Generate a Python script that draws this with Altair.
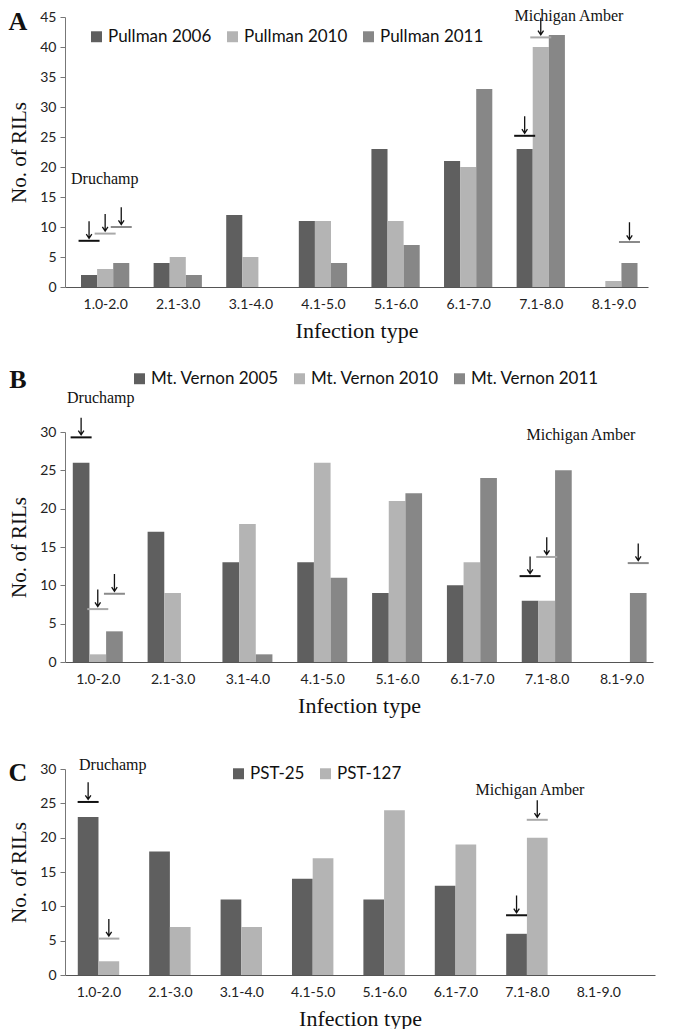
import json
import altair as alt
import pandas as pd

categories = ["1.0-2.0", "2.1-3.0", "3.1-4.0", "4.1-5.0", "5.1-6.0", "6.1-7.0", "7.1-8.0", "8.1-9.0"]

# Panel A
a_series = ["Pullman 2006", "Pullman 2010", "Pullman 2011"]
a_2006 = [2, 4, 12, 11, 23, 21, 23, 0]
a_2010 = [3, 5, 5, 11, 11, 20, 40, 1]
a_2011 = [4, 2, 0, 4, 7, 33, 42, 4]
a_mark_cat = ["1.0-2.0", "1.0-2.0", "1.0-2.0", "7.1-8.0", "7.1-8.0", "8.1-9.0"]
a_mark_series = ["Pullman 2006", "Pullman 2010", "Pullman 2011", "Pullman 2006", "Pullman 2010", "Pullman 2011"]
a_mark_value = [7.7, 8.9, 10.0, 25.2, 41.6, 7.5]

# Panel B
b_series = ["Mt. Vernon 2005", "Mt. Vernon 2010", "Mt. Vernon 2011"]
b_2005 = [26, 17, 13, 13, 9, 10, 8, 0]
b_2010 = [1, 9, 18, 26, 21, 13, 8, 0]
b_2011 = [4, 0, 1, 11, 22, 24, 25, 9]
b_mark_cat = ["1.0-2.0", "1.0-2.0", "1.0-2.0", "7.1-8.0", "7.1-8.0", "8.1-9.0"]
b_mark_series = ["Mt. Vernon 2005", "Mt. Vernon 2010", "Mt. Vernon 2011", "Mt. Vernon 2005", "Mt. Vernon 2010", "Mt. Vernon 2011"]
b_mark_value = [29.3, 6.9, 8.9, 11.2, 13.7, 12.9]

# Panel C
c_series = ["PST-25", "PST-127"]
c_pst25 = [23, 18, 11, 14, 11, 13, 6, 0]
c_pst127 = [2, 7, 7, 17, 24, 19, 20, 0]
c_mark_cat = ["1.0-2.0", "1.0-2.0", "7.1-8.0", "7.1-8.0"]
c_mark_series = ["PST-25", "PST-127", "PST-25", "PST-127"]
c_mark_value = [25.2, 5.3, 8.7, 22.6]

bar_colors = ["#5f5f5f", "#b4b4b4", "#878787"]
marker_colors = ["#111111", "#a9a9a9", "#8a8a8a"]

SANS = "Lato"
SERIF = "Liberation Serif"
ARROW = "M0,-1L0,0.95M-0.32,0.5L0,0.98L0.32,0.5"
CAT_JS = json.dumps(categories)


def panel(series, values, mcat, mser, mval, ymax, width, height, group, xdom,
          legend_xy, letter, letter_xy, dru_xy, mich_xy):
    n = len(series)
    sub = group / n
    rows = []
    for j, (s, vals) in enumerate(zip(series, values)):
        for i, (c, v) in enumerate(zip(categories, vals)):
            x0 = i + (1 - group) / 2 + j * sub
            rows.append({"cat": c, "series": s, "value": v, "x0": x0, "x1": x0 + sub})
    df = pd.DataFrame(rows)
    mdf = pd.DataFrame({"cat": mcat, "series": mser, "value": mval})
    mdf["xc"] = [categories.index(c) + (1 - group) / 2 + (series.index(s) + 0.5) * sub
                 for c, s in zip(mcat, mser)]

    xscale = alt.Scale(domain=xdom, nice=False, zero=False)
    xaxis = alt.Axis(title="Infection type", values=[i + 0.5 for i in range(len(categories))],
                     labelExpr=f"{CAT_JS}[floor(datum.value)]", grid=False,
                     ticks=False, tickSize=0, labelPadding=10, labelFont=SANS, labelFontSize=14,
                     labelColor="#222", labelFlush=False, labelOverlap=False,
                     titleFont=SERIF, titleFontSize=22,
                     titleFontWeight="normal", titleColor="#111", titlePadding=9,
                     domainColor="#555", domainWidth=1.2)
    ys = alt.Y("value:Q",
               scale=alt.Scale(domain=[0, ymax], nice=False),
               axis=alt.Axis(title="No. of RILs", values=list(range(0, ymax + 1, 5)), grid=False,
                             tickSize=5, tickColor="#777", domainColor="#777", labelFont=SANS,
                             labelFontSize=14, labelColor="#222", labelPadding=4,
                             titleFont=SERIF, titleFontSize=21, titleFontWeight="normal",
                             titleColor="#111", titlePadding=10))

    bars = alt.Chart(df).mark_bar().encode(
        x=alt.X("x0:Q", scale=xscale, axis=xaxis), x2="x1:Q", y=ys, y2=alt.datum(0),
        color=alt.Color("series:N", sort=series,
                        scale=alt.Scale(domain=series, range=bar_colors[:n]),
                        legend=alt.Legend(title=None, orient="none", direction="horizontal",
                                          legendX=legend_xy[0], legendY=legend_xy[1],
                                          symbolType="square", symbolSize=120,
                                          symbolStrokeWidth=0, labelFont=SANS,
                                          labelFontSize=17, labelColor="#111",
                                          columnPadding=12, labelOffset=3)),
    )

    lines = alt.Chart(mdf).mark_tick(orient="horizontal", thickness=2, size=21, opacity=1).encode(
        x=alt.X("xc:Q", scale=xscale), y=ys,
        color=alt.Color("series:N", sort=series,
                        scale=alt.Scale(domain=series, range=marker_colors[:n]), legend=None),
    )
    arrows = alt.Chart(mdf).mark_point(shape=ARROW, filled=False, size=300, strokeWidth=1.3,
                                       color="#111", opacity=1, yOffset=-11).encode(
        x=alt.X("xc:Q", scale=xscale), y=ys,
    )

    def label(txt, xy, font, size, weight="normal", align="left"):
        return alt.Chart(pd.DataFrame({"t": [txt]})).mark_text(
            font=font, fontSize=size, fontWeight=weight, align=align, baseline="middle",
            color="#111").encode(x=alt.value(xy[0]), y=alt.value(xy[1]), text="t:N")

    layers = [bars, lines, arrows,
              label(letter, letter_xy, SERIF, 26, "bold", "center"),
              label("Druchamp", dru_xy, SERIF, 16),
              label("Michigan Amber", mich_xy, SERIF, 16, align="center")]
    return alt.layer(*layers).resolve_scale(color="independent").properties(width=width, height=height)


pa = panel(a_series, [a_2006, a_2010, a_2011], a_mark_cat, a_mark_series, a_mark_value,
           45, 583, 270, 0.665, [-0.053, 7.977], (23, 11), "A", (-47, 5), (6, 162), (504, -1))
pb = panel(b_series, [b_2005, b_2010, b_2011], b_mark_cat, b_mark_series, b_mark_value,
           30, 588, 230, 0.668, [0.062, 7.92], (66, -62), "B", (-47, -52), (2, -34), (516, 3))
pc = panel(c_series, [c_pst25, c_pst127], c_mark_cat, c_mark_series, c_mark_value,
           30, 590, 206, 0.58, [0.031, 8.294], (165, -4), "C", (-47, 4), (14, -4), (465, 21))

top = alt.vconcat(pa, pb, spacing=26)
chart = alt.vconcat(top, pc, spacing=41).configure_view(strokeWidth=0).properties(
    padding={"left": 0, "right": 5, "top": 0, "bottom": 0})

chart.save("out.html", embed_options={"renderer": "svg", "actions": False})
